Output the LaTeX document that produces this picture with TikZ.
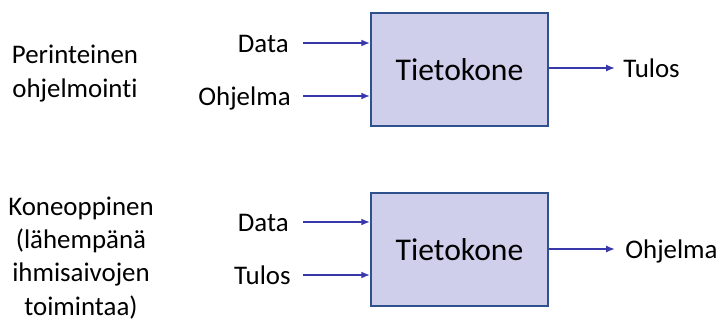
\documentclass[tikz,border=0pt]{standalone}
\usepackage{fontspec}
\setmainfont{Carlito}[Ligatures=NoCommon]
\usetikzlibrary{arrows.meta}

\definecolor{boxfill}{RGB}{207,207,235}
\definecolor{boxline}{RGB}{47,82,143}
\definecolor{arrowblue}{RGB}{56,56,170}

\tikzset{
  kone/.style={draw=boxline, fill=boxfill, line width=1.1pt,
    minimum width=3.54cm, minimum height=2.26cm,
    font=\fontsize{18}{22}\selectfont},
  lbl/.style={inner sep=0pt, font=\fontsize{15.3}{18.8}\selectfont},
  nuoli/.style={draw=arrowblue, line width=1pt,
    -{Latex[length=5pt,width=4pt]}}
}

\begin{document}
\begin{tikzpicture}[x=0.02cm,y=-0.02cm]
\useasboundingbox (0,0) rectangle (720,321);
% perinteinen ohjelmointi
\node[lbl,anchor=base,align=center] (otsikko1) at (75,97) {Perinteinen\\ohjelmointi};
\node[kone] (kone1) at (459.5,69.5) {Tietokone};
\coordinate (sisaan1a) at (303,43);
\coordinate (sisaan1b) at (303,96);
\coordinate (ulos1) at (615,68);
\node[lbl,anchor=base east] (data1) at (289,52) {Data};
\node[lbl,anchor=base east] (ohjelma1) at (291,105) {Ohjelma};
\node[lbl,anchor=base west] (tulos1) at (623,77) {Tulos};
\draw[nuoli] (sisaan1a) -- (sisaan1a -| kone1.west);
\draw[nuoli] (sisaan1b) -- (sisaan1b -| kone1.west);
\draw[nuoli] (ulos1 -| kone1.east) -- (ulos1);
% koneoppiminen
\node[lbl,anchor=base,align=center] (otsikko2) at (81,315) {Koneoppinen\\(lähempänä\\ihmisaivojen\\toimintaa)};
\node[kone] (kone2) at (459.5,249.5) {Tietokone};
\coordinate (sisaan2a) at (303,222);
\coordinate (sisaan2b) at (303,275);
\coordinate (ulos2) at (615,249);
\node[lbl,anchor=base east] (data2) at (289,231) {Data};
\node[lbl,anchor=base east] (tulos2) at (291,284) {Tulos};
\node[lbl,anchor=base west] (ohjelma2) at (625,258) {Ohjelma};
\draw[nuoli] (sisaan2a) -- (sisaan2a -| kone2.west);
\draw[nuoli] (sisaan2b) -- (sisaan2b -| kone2.west);
\draw[nuoli] (ulos2 -| kone2.east) -- (ulos2);
\end{tikzpicture}
\end{document}
